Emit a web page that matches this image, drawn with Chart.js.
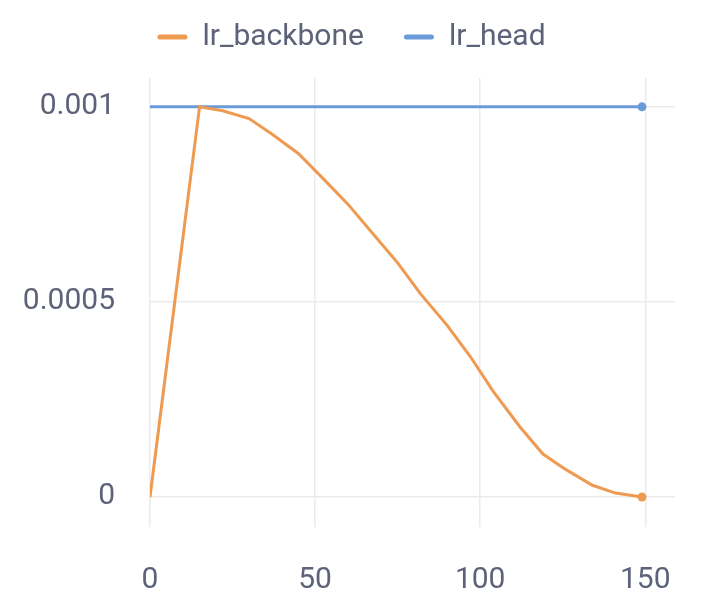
<!DOCTYPE html>
<html>
<head>
<meta charset="utf-8">
<script src="https://cdn.jsdelivr.net/npm/chart.js@4"></script>
<style>
  html, body { margin: 0; padding: 0; background: #fff; }
  #wrap { width: 708px; height: 614px; }
</style>
</head>
<body>
<div id="wrap"><canvas id="lrChart" width="708" height="614"></canvas></div>
<script>
const steps = [0, 15, 22, 30, 37, 45, 52, 60, 67, 75, 82, 90, 97, 104, 112, 119, 126, 134, 141, 149];
const lrBackbone = [0, 0.001, 0.00099, 0.00097, 0.00093, 0.00088, 0.00082, 0.00075, 0.00068, 0.0006,
  0.00052, 0.00044, 0.00036, 0.00027, 0.00018, 0.00011, 0.00007, 0.00003, 0.00001, 0];
const lrHead = [0.001, 0.001, 0.001, 0.001, 0.001, 0.001, 0.001, 0.001, 0.001, 0.001,
  0.001, 0.001, 0.001, 0.001, 0.001, 0.001, 0.001, 0.001, 0.001, 0.001];
const xTicks = [0, 50, 100, 150];
const yTicks = [0, 0.0005, 0.001];

const textColor = '#5d6279';
const gridColor = '#ebebeb';

function toPoints(vals) {
  return vals.map((v, i) => ({ x: steps[i], y: v }));
}
function lastDotOnly(n) {
  return steps.map((s, i) => i === n - 1 ? 4.5 : 0);
}

// legend: fixed height so the plot starts where it should, and centred on the canvas
const legendTweak = {
  id: 'legendTweak',
  beforeLayout(chart) {
    const lg = chart.legend;
    if (lg && !lg._patched) {
      const fit = lg.fit;
      const draw = lg.draw;
      lg.fit = function () { fit.call(this); this.height = 96; };
      lg.draw = function () {
        this.left += 28;
        draw.call(this);
        this.left -= 28;
      };
      lg._patched = true;
    }
  }
};

const ctx = document.getElementById('lrChart').getContext('2d');
const chart = new Chart(ctx, {
  type: 'line',
  data: {
    datasets: [
      {
        label: 'lr_backbone',
        data: toPoints(lrBackbone),
        borderColor: '#ef9a51',
        backgroundColor: '#ef9a51',
        borderWidth: 3,
        tension: 0,
        pointRadius: lastDotOnly(steps.length),
        pointBorderWidth: 0
      },
      {
        label: 'lr_head',
        data: toPoints(lrHead),
        borderColor: '#6a9bd8',
        backgroundColor: '#6a9bd8',
        borderWidth: 3,
        tension: 0,
        pointRadius: lastDotOnly(steps.length),
        pointBorderWidth: 0
      }
    ]
  },
  options: {
    responsive: false,
    animation: false,
    layout: { padding: { top: -18, left: 0, right: 33, bottom: 0 } },
    plugins: {
      tooltip: { enabled: false },
      legend: {
        labels: {
          color: textColor,
          font: { family: 'Roboto', size: 30 },
          boxWidth: 30,
          boxHeight: 5,
          padding: 40,
          generateLabels(c) {
            return c.data.datasets.map((d, i) => ({
              text: d.label,
              fillStyle: d.borderColor,
              strokeStyle: d.borderColor,
              lineWidth: 0,
              borderRadius: 2.5,
              fontColor: textColor,
              datasetIndex: i
            }));
          }
        }
      }
    },
    scales: {
      x: {
        type: 'linear',
        min: 0,
        max: 159,
        afterBuildTicks(s) { s.ticks = xTicks.map(v => ({ value: v })); },
        afterFit(s) { s.height = 87; },
        ticks: {
          color: textColor,
          font: { family: 'Roboto', size: 30 },
          padding: 35,
          maxRotation: 0,
          includeBounds: false
        },
        grid: { color: gridColor, lineWidth: 1.5, drawTicks: false },
        border: { display: false }
      },
      y: {
        min: -0.000077,
        max: 0.001074,
        afterBuildTicks(s) { s.ticks = yTicks.map(v => ({ value: v })); },
        afterFit(s) { s.width = 150; },
        ticks: {
          color: textColor,
          font: { family: 'Roboto', size: 30 },
          padding: 35,
          includeBounds: false,
          callback: v => String(Number(v.toFixed(6)))
        },
        grid: { color: gridColor, lineWidth: 1.5, drawTicks: false },
        border: { display: false }
      }
    }
  },
  plugins: [legendTweak]
});
</script>
</body>
</html>
